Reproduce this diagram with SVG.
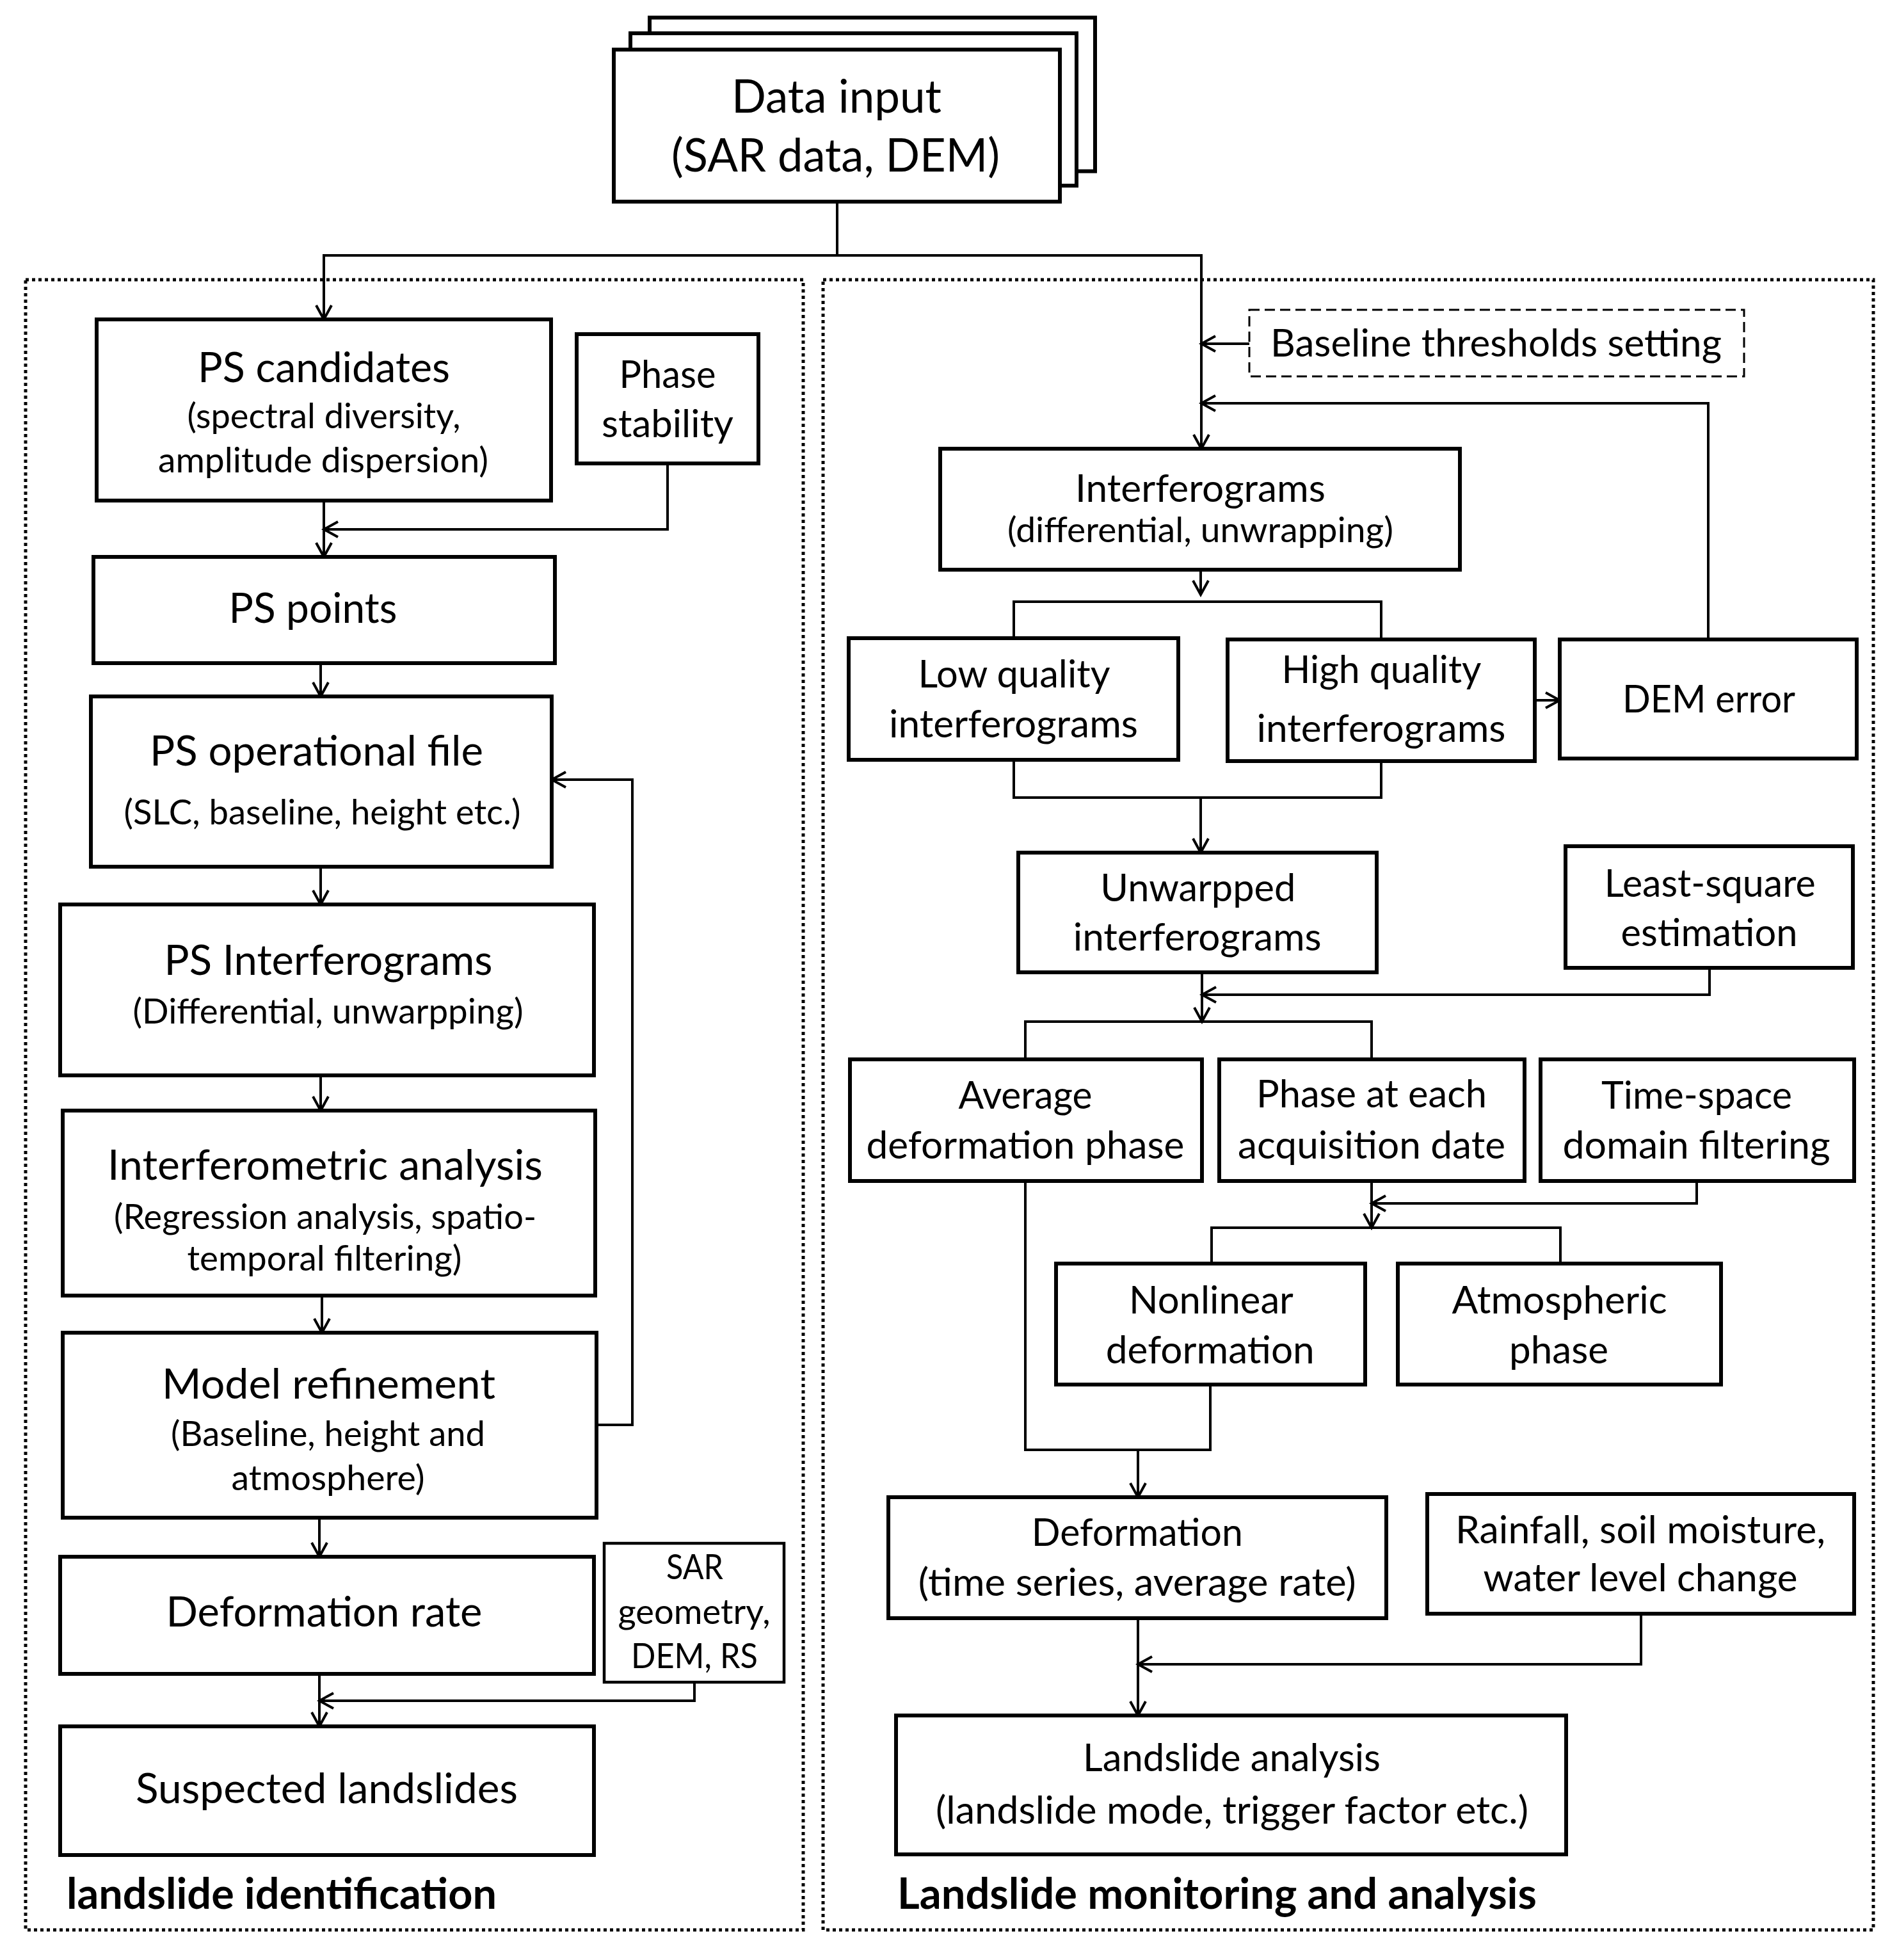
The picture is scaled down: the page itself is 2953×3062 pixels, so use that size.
<svg xmlns="http://www.w3.org/2000/svg" width="2953" height="3062" viewBox="0 0 2953 3062">
<style>
.box{fill:#fff;stroke:#000;stroke-width:6}
.thin{stroke-width:4.5}
.conn{fill:none;stroke:#000;stroke-width:4}
.panel{fill:none;stroke:#000;stroke-width:5;stroke-dasharray:5 5}
.dash{fill:#fff;stroke:#000;stroke-width:3;stroke-dasharray:16 8}
text{font-family:Lato,"Liberation Sans",sans-serif;fill:#000;text-anchor:middle}
.t0{font-size:71px}
.t1{font-size:65px}
.t2{font-size:60px}
.s{font-size:54px}
.b{font-size:66px;font-weight:bold;text-anchor:start}
</style>
<defs>
<marker id="ah" markerUnits="userSpaceOnUse" markerWidth="32" markerHeight="32" viewBox="-28 -16 32 32" refX="0" refY="0" orient="auto">
<path d="M-22,-12 L0,0 L-22,12" fill="none" stroke="#000" stroke-width="4"/>
</marker>
</defs>
<rect width="2953" height="3062" fill="#fff"/>

<g id="panels">
<rect class="panel" x="40" y="437" width="1215" height="2578"/>
<rect class="panel" x="1286" y="437" width="1641" height="2578"/>
<text class="b" x="104" y="2982" textLength="672" lengthAdjust="spacingAndGlyphs">landslide identification</text>
<text class="b" x="1402" y="2982" textLength="999" lengthAdjust="spacingAndGlyphs">Landslide monitoring and analysis</text>
</g>

<g id="connectors">
<polyline class="conn" points="1308,315 1308,399"/>
<polyline class="conn" points="1308,399 506,399 506,499" marker-end="url(#ah)"/>
<polyline class="conn" points="1308,399 1877,399 1877,701" marker-end="url(#ah)"/>
<polyline class="conn" points="1952,537 1877,537" marker-end="url(#ah)"/>
<polyline class="conn" points="2669,999 2669,630 1877,630" marker-end="url(#ah)"/>
<polyline class="conn" points="506,782 506,870" marker-end="url(#ah)"/>
<polyline class="conn" points="1043,724 1043,827 506,827" marker-end="url(#ah)"/>
<polyline class="conn" points="501,1036 501,1088" marker-end="url(#ah)"/>
<polyline class="conn" points="501,1354 501,1413" marker-end="url(#ah)"/>
<polyline class="conn" points="501,1680 501,1735" marker-end="url(#ah)"/>
<polyline class="conn" points="503,2024 503,2082" marker-end="url(#ah)"/>
<polyline class="conn" points="499,2371 499,2432" marker-end="url(#ah)"/>
<polyline class="conn" points="932,2226 988,2226 988,1218 862,1218" marker-end="url(#ah)"/>
<polyline class="conn" points="499,2615 499,2697" marker-end="url(#ah)"/>
<polyline class="conn" points="1085,2628 1085,2657 499,2657" marker-end="url(#ah)"/>
<polyline class="conn" points="1876,890 1876,929" marker-end="url(#ah)"/>
<polyline class="conn" points="1584,997 1584,940 2158,940 2158,999"/>
<polyline class="conn" points="2398,1094 2437,1094" marker-end="url(#ah)"/>
<polyline class="conn" points="1584,1187 1584,1246 2158,1246 2158,1189"/>
<polyline class="conn" points="1876,1246 1876,1332" marker-end="url(#ah)"/>
<polyline class="conn" points="2671,1512 2671,1554 1878,1554" marker-end="url(#ah)"/>
<polyline class="conn" points="1878,1519 1878,1596" marker-end="url(#ah)"/>
<polyline class="conn" points="1602,1655 1602,1596 2143,1596 2143,1655"/>
<polyline class="conn" points="2651,1845 2651,1880 2143,1880" marker-end="url(#ah)"/>
<polyline class="conn" points="2143,1845 2143,1918" marker-end="url(#ah)"/>
<polyline class="conn" points="1893,1974 1893,1918 2438,1918 2438,1974"/>
<polyline class="conn" points="1602,1845 1602,2265 1891,2265 1891,2163"/>
<polyline class="conn" points="1778,2265 1778,2339" marker-end="url(#ah)"/>
<polyline class="conn" points="2564,2521 2564,2600 1778,2600" marker-end="url(#ah)"/>
<polyline class="conn" points="1778,2528 1778,2680" marker-end="url(#ah)"/>
</g>

<g id="data_input">
<rect class="box" x="1015" y="27.5" width="696" height="240"/>
<rect class="box" x="985" y="52" width="697" height="238"/>
<rect class="box" x="959" y="77.5" width="697" height="237.5"/>
<text class="t0" x="1307" y="176" textLength="328" lengthAdjust="spacingAndGlyphs">Data input</text>
<text class="t0" x="1305.5" y="268" textLength="513" lengthAdjust="spacingAndGlyphs">(SAR data, DEM)</text>
</g>

<g id="ps_candidates">
<rect class="box" x="151" y="499" width="710" height="283"/>
<text class="t1" x="506" y="597" textLength="394" lengthAdjust="spacingAndGlyphs">PS candidates</text>
<text class="s" x="506" y="669" textLength="427" lengthAdjust="spacingAndGlyphs">(spectral diversity,</text>
<text class="s" x="505" y="738" textLength="516" lengthAdjust="spacingAndGlyphs">amplitude dispersion)</text>
</g>

<g id="phase_stability">
<rect class="box" x="901" y="522" width="284" height="202"/>
<text class="t2" x="1043" y="606" textLength="151" lengthAdjust="spacingAndGlyphs">Phase</text>
<text class="t2" x="1043" y="683" textLength="206" lengthAdjust="spacingAndGlyphs">stability</text>
</g>

<g id="ps_points">
<rect class="box" x="146" y="870" width="721" height="166"/>
<text class="t1" x="489" y="973" textLength="263" lengthAdjust="spacingAndGlyphs">PS points</text>
</g>

<g id="ps_operational_file">
<rect class="box" x="142" y="1088" width="720" height="266"/>
<text class="t1" x="494.5" y="1196" textLength="521" lengthAdjust="spacingAndGlyphs">PS operational file</text>
<text class="s" x="503.5" y="1288" textLength="620" lengthAdjust="spacingAndGlyphs">(SLC, baseline, height etc.)</text>
</g>

<g id="ps_interferograms">
<rect class="box" x="94" y="1413" width="834" height="267"/>
<text class="t1" x="513" y="1523" textLength="513" lengthAdjust="spacingAndGlyphs">PS Interferograms</text>
<text class="s" x="512.5" y="1599" textLength="610" lengthAdjust="spacingAndGlyphs">(Differential, unwarpping)</text>
</g>

<g id="interferometric_analysis">
<rect class="box" x="98" y="1735" width="832" height="289"/>
<text class="t1" x="508" y="1843" textLength="680" lengthAdjust="spacingAndGlyphs">Interferometric analysis</text>
<text class="s" x="508" y="1920" textLength="660" lengthAdjust="spacingAndGlyphs">(Regression analysis, spatio-</text>
<text class="s" x="507" y="1985" textLength="429" lengthAdjust="spacingAndGlyphs">temporal filtering)</text>
</g>

<g id="model_refinement">
<rect class="box" x="98" y="2082" width="834" height="289"/>
<text class="t1" x="513.5" y="2185" textLength="521" lengthAdjust="spacingAndGlyphs">Model refinement</text>
<text class="s" x="512.5" y="2259" textLength="491" lengthAdjust="spacingAndGlyphs">(Baseline, height and</text>
<text class="s" x="512.5" y="2328" textLength="302" lengthAdjust="spacingAndGlyphs">atmosphere)</text>
</g>

<g id="deformation_rate">
<rect class="box" x="94" y="2432" width="834" height="183"/>
<text class="t1" x="506.5" y="2541" textLength="494" lengthAdjust="spacingAndGlyphs">Deformation rate</text>
</g>

<g id="sar_geometry">
<rect class="box thin" x="944" y="2411" width="281" height="217"/>
<text class="s" x="1085.5" y="2467" textLength="89" lengthAdjust="spacingAndGlyphs">SAR</text>
<text class="s" x="1084.5" y="2537" textLength="238" lengthAdjust="spacingAndGlyphs">geometry,</text>
<text class="s" x="1085" y="2606" textLength="198" lengthAdjust="spacingAndGlyphs">DEM, RS</text>
</g>

<g id="suspected_landslides">
<rect class="box" x="94" y="2697" width="834" height="201"/>
<text class="t1" x="510.5" y="2817" textLength="597" lengthAdjust="spacingAndGlyphs">Suspected landslides</text>
</g>

<g id="baseline_thresholds">
<rect class="dash" x="1952" y="484" width="773" height="104"/>
<text class="t2" x="2337.5" y="557" textLength="705" lengthAdjust="spacingAndGlyphs">Baseline thresholds setting</text>
</g>

<g id="interferograms">
<rect class="box" x="1469" y="701" width="812" height="189"/>
<text class="t2" x="1875.5" y="784" textLength="391" lengthAdjust="spacingAndGlyphs">Interferograms</text>
<text class="s" x="1875.5" y="847" textLength="603" lengthAdjust="spacingAndGlyphs">(differential, unwrapping)</text>
</g>

<g id="low_quality">
<rect class="box" x="1326" y="997" width="515" height="190"/>
<text class="t2" x="1584.5" y="1074" textLength="300" lengthAdjust="spacingAndGlyphs">Low quality</text>
<text class="t2" x="1583.5" y="1152" textLength="389" lengthAdjust="spacingAndGlyphs">interferograms</text>
</g>

<g id="high_quality">
<rect class="box" x="1918" y="999" width="480" height="190"/>
<text class="t2" x="2158.5" y="1067" textLength="312" lengthAdjust="spacingAndGlyphs">High quality</text>
<text class="t2" x="2158" y="1159" textLength="389" lengthAdjust="spacingAndGlyphs">interferograms</text>
</g>

<g id="dem_error">
<rect class="box" x="2437" y="999" width="464" height="186"/>
<text class="t2" x="2670" y="1113" textLength="270" lengthAdjust="spacingAndGlyphs">DEM error</text>
</g>

<g id="unwarpped_interferograms">
<rect class="box" x="1591" y="1332" width="560" height="187"/>
<text class="t2" x="1871.8" y="1408" textLength="305" lengthAdjust="spacingAndGlyphs">Unwarpped</text>
<text class="t2" x="1870.7" y="1485" textLength="388" lengthAdjust="spacingAndGlyphs">interferograms</text>
</g>

<g id="least_square">
<rect class="box" x="2446" y="1322" width="449" height="190"/>
<text class="t2" x="2671.7" y="1401" textLength="330" lengthAdjust="spacingAndGlyphs">Least-square</text>
<text class="t2" x="2670.6" y="1478" textLength="276" lengthAdjust="spacingAndGlyphs">estimation</text>
</g>

<g id="average_deformation_phase">
<rect class="box" x="1328" y="1655" width="550" height="190"/>
<text class="t2" x="1602" y="1732" textLength="209" lengthAdjust="spacingAndGlyphs">Average</text>
<text class="t2" x="1602" y="1810" textLength="497" lengthAdjust="spacingAndGlyphs">deformation phase</text>
</g>

<g id="phase_each_date">
<rect class="box" x="1905" y="1655" width="477" height="190"/>
<text class="t2" x="2143" y="1730" textLength="360" lengthAdjust="spacingAndGlyphs">Phase at each</text>
<text class="t2" x="2143" y="1810" textLength="418" lengthAdjust="spacingAndGlyphs">acquisition date</text>
</g>

<g id="time_space_filtering">
<rect class="box" x="2407" y="1655" width="490" height="190"/>
<text class="t2" x="2651" y="1732" textLength="298" lengthAdjust="spacingAndGlyphs">Time-space</text>
<text class="t2" x="2650.5" y="1810" textLength="418" lengthAdjust="spacingAndGlyphs">domain filtering</text>
</g>

<g id="nonlinear_deformation">
<rect class="box" x="1650" y="1974" width="483" height="189"/>
<text class="t2" x="1892.4" y="2052" textLength="257" lengthAdjust="spacingAndGlyphs">Nonlinear</text>
<text class="t2" x="1890.8" y="2130" textLength="326" lengthAdjust="spacingAndGlyphs">deformation</text>
</g>

<g id="atmospheric_phase">
<rect class="box" x="2184" y="1974" width="505" height="189"/>
<text class="t2" x="2436.6" y="2052" textLength="336" lengthAdjust="spacingAndGlyphs">Atmospheric</text>
<text class="t2" x="2435.5" y="2130" textLength="155" lengthAdjust="spacingAndGlyphs">phase</text>
</g>

<g id="deformation">
<rect class="box" x="1388" y="2339" width="778" height="189"/>
<text class="t2" x="1776.8" y="2415" textLength="330" lengthAdjust="spacingAndGlyphs">Deformation</text>
<text class="t2" x="1776.8" y="2493" textLength="684" lengthAdjust="spacingAndGlyphs">(time series, average rate)</text>
</g>

<g id="rainfall">
<rect class="box" x="2230" y="2334" width="667" height="187"/>
<text class="t2" x="2563" y="2411" textLength="578" lengthAdjust="spacingAndGlyphs">Rainfall, soil moisture,</text>
<text class="t2" x="2563" y="2486" textLength="491" lengthAdjust="spacingAndGlyphs">water level change</text>
</g>

<g id="landslide_analysis">
<rect class="box" x="1400" y="2680" width="1047" height="217"/>
<text class="t2" x="1924.5" y="2767" textLength="465" lengthAdjust="spacingAndGlyphs">Landslide analysis</text>
<text class="t2" x="1925" y="2849" textLength="926" lengthAdjust="spacingAndGlyphs">(landslide mode, trigger factor etc.)</text>
</g>
</svg>
